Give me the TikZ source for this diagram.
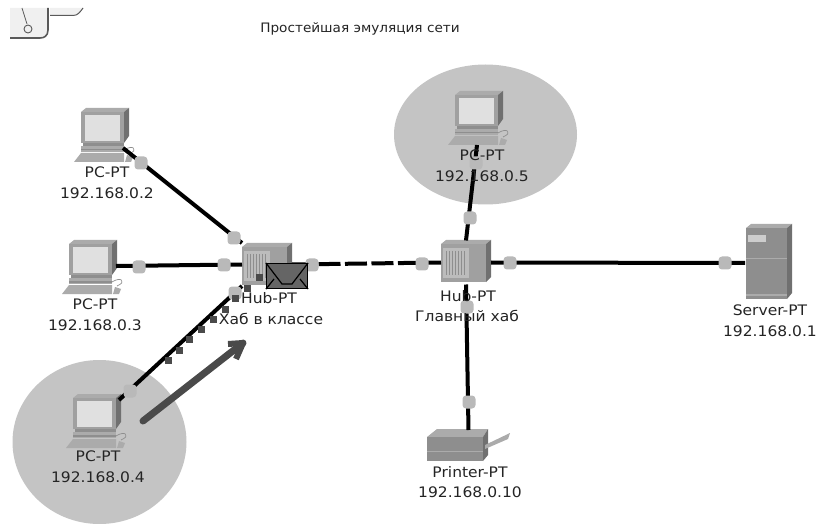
\documentclass[tikz,border=0pt]{standalone}
\usepackage{fontspec}
\setmainfont{DejaVu Sans}
\definecolor{halo}{HTML}{C4C4C4}
\definecolor{portc}{HTML}{B9B9B9}
\definecolor{ink}{HTML}{242424}
\definecolor{bodyc}{HTML}{8E8E8E}
\definecolor{framec}{HTML}{A0A0A0}
\definecolor{topc}{HTML}{ABABAB}
\definecolor{sidec}{HTML}{707070}
\definecolor{dotc}{HTML}{4A4A4A}
\definecolor{screenc}{HTML}{E0E0E0}
\tikzset{
  devbox/.style={inner sep=0pt,outer sep=0pt,draw=none,fill=none},
  link/.style={line width=4pt,black},
  port/.style={inner sep=0pt,minimum size=13pt,fill=portc,rounded corners=3.5pt,draw=none},
  lab/.style={font=\fontsize{14.5}{15}\selectfont,text=ink,inner sep=0pt,xscale=1.07},
  packet/.style={inner sep=0pt,minimum size=7pt,fill=dotc,draw=none},
}
\newcommand{\pcicon}[2]{\begin{scope}[shift={(#1,#2)}]
  \fill[topc] (0,4) -- (5,0) -- (48,0) -- (43,4) -- cycle;
  \fill[sidec] (43,4) -- (48,0) -- (48,28) -- (43,35) -- cycle;
  \fill[framec] (0,4) rectangle (43,35);
  \fill[screenc] (4,7) rectangle (39,33);
  \fill[bodyc] (2,35) rectangle (43,38);
  \fill[topc] (0,38) rectangle (43,44);
  \fill[bodyc] (0,41) rectangle (43,42.5);
  \fill[topc] (-7,54) -- (0,45) -- (43,45) -- (43,54) -- cycle;
  \fill[topc] (46,47) -- (52,49) -- (50,54) -- (44,54) -- cycle;
  \draw[bodyc,line width=.7pt] (43,42) .. controls (52,36) and (58,42) .. (48,46);
\end{scope}}
\newcommand{\hubicon}[2]{\begin{scope}[shift={(#1,#2)}]
  \fill[topc] (0,4) -- (5,0) -- (50,0) -- (45,4) -- cycle;
  \fill[sidec] (45,4) -- (50,0) -- (50,37) -- (45,42) -- cycle;
  \fill[framec] (0,4) rectangle (45,42);
  \fill[topc!80!white] (2,8) rectangle (28,38);
  \foreach \k in {5,8,...,23} {\draw[bodyc,line width=1pt] (\k,11) -- (\k,35);}
\end{scope}}
\begin{document}
\begin{tikzpicture}[x=1pt,y=-1pt]
\useasboundingbox (0,0) rectangle (823,524);
\fill[white] (0,0) rectangle (823,524);
% note icon
\fill[gray!12] (10,8) -- (47,8) -- (47,30) .. controls (47,35) and (44,37) .. (40,37) -- (10,37) -- cycle;
\draw[gray!70!black,line width=1.6pt] (48,8) -- (48,30) .. controls (48,36) and (44,38) .. (40,38) -- (10,38);
\fill[gray!12] (50,8) -- (83,8) .. controls (80,12) and (78,15) .. (72,15) -- (50,15) -- cycle;
\draw[gray!70!black,line width=1pt] (50,15.5) -- (73,15.5) .. controls (78,15.5) and (80,12) .. (83,8);
\draw[gray!70!black,line width=.8pt] (22,8) -- (27,24);
\draw[gray!70!black,line width=.9pt] (28,29) circle[radius=4];
% halos
\fill[halo] (99.5,442) ellipse[x radius=87,y radius=82];
\fill[halo] (485.5,134.5) ellipse[x radius=91.5,y radius=70];
% icons
\pcicon{81}{108}
\pcicon{69}{240}
\pcicon{73}{394}
\pcicon{455}{91}
\hubicon{242}{243}
\hubicon{441}{240}
% server
\fill[topc] (746,228) -- (751,224) -- (792,224) -- (787,228) -- cycle;
\fill[sidec] (787,228) -- (792,224) -- (792,293) -- (787,299) -- cycle;
\fill[bodyc] (746,228) rectangle (787,299);
\fill[topc!60!white] (748,235) rectangle (766,242);
\fill[topc] (746,258) rectangle (787,259.5);
\fill[topc] (746,294) rectangle (787,296);
% printer
\fill[topc] (427,437) -- (437,429) -- (488,429) -- (483,437) -- cycle;
\fill[sidec] (483,437) -- (488,429) -- (488,455) -- (483,461) -- cycle;
\fill[bodyc] (427,437) rectangle (483,461);
\fill[topc] (427,451) rectangle (483,452);
\fill[topc] (485,445) -- (510,433) -- (508,439) -- (485,449) -- cycle;
% device anchors
\node[devbox,minimum width=42pt,minimum height=40pt] (pc2) at (102,128) {};
\node[devbox,minimum width=47pt,minimum height=52pt] (pc3) at (92.5,266) {};
\node[devbox,minimum width=46pt,minimum height=54pt] (pc4) at (96,427) {};
\node[devbox,minimum width=40pt,minimum height=54pt] (pc5) at (477,118) {};
\node[devbox,minimum width=50pt,minimum height=43pt] (hubA) at (267,264.5) {};
\node[devbox,minimum width=50pt,minimum height=44pt] (hubB) at (466,262.5) {};
\node[devbox,minimum width=46pt,minimum height=76pt] (srv) at (768,263) {};
\node[devbox,minimum width=83pt,minimum height=32pt] (prn) at (468.5,446) {};
% connectors
\draw[link] (pc2.south east) -- (hubA.north west);
\draw[link] (pc3.east) -- (hubA.west);
\draw[link] (pc4.north east) -- (hubA.south west);
\draw[link,dash pattern=on 22pt off 4.5pt] (hubA.east) -- (hubB.west);
\draw[link] (hubB.east) -- (srv.west);
\draw[link] (hubB.north) -- (pc5.south);
\draw[link] (hubB.south) -- (prn.north);
% ports
\node[port] (q1) at (141,163) {};
\node[port] (q2) at (234,238) {};
\node[port] (q3) at (139,267) {};
\node[port] (q4) at (224,265) {};
\node[port] (q5) at (130,391) {};
\node[port] (q6) at (235,293) {};
\node[port] (q7) at (312,265) {};
\node[port] (q8) at (422,264) {};
\node[port] (q9) at (510,263) {};
\node[port] (q10) at (725,263) {};
\node[port] (q11) at (470,218) {};
\node[port] (q12) at (476,163) {};
\node[port] (q13) at (467,307) {};
\node[port] (q14) at (469,402) {};
% packet trail
\node[packet] (t1) at (168,360) {};
\node[packet] (t2) at (179,350) {};
\node[packet] (t3) at (189,339) {};
\node[packet] (t4) at (201,329) {};
\node[packet] (t5) at (213,319) {};
\node[packet] (t6) at (225,309) {};
\node[packet] (t7) at (235.5,298) {};
\node[packet] (t8) at (247,288) {};
\node[packet] (t9) at (259,278) {};
% direction arrow
\coordinate (mvA) at (143,421);
\coordinate (mvB) at (243,343);
\draw[dotc,line width=7pt,line cap=round] (mvA) -- (mvB);
\draw[dotc,line width=6pt,line join=round] (228,344) -- (mvB) -- (236,359);
% envelope
\node[inner sep=0pt,minimum width=41pt,minimum height=25pt,fill=dotc!85!white,draw=black,line width=1.2pt] (env) at (287,276) {};
\draw[black,line width=1.2pt] (env.north west) -- (282,284) -- (292,284) -- (env.north east);
\draw[black,line width=1.2pt] (env.south west) -- (274,279);
\draw[black,line width=1.2pt] (env.south east) -- (300,279);
% labels
\node[lab,xscale=.98,font=\fontsize{13}{13}\selectfont] (title) at (360,29) {Простейшая эмуляция сети};
\node[lab] (l2a) at (107,172) {PC-PT};
\node[lab] (l2b) at (107,193) {192.168.0.2};
\node[lab] (l3a) at (95,304) {PC-PT};
\node[lab] (l3b) at (95,325) {192.168.0.3};
\node[lab] (l4a) at (98,456) {PC-PT};
\node[lab] (l4b) at (98,477) {192.168.0.4};
\node[lab] (l5a) at (482,155) {PC-PT};
\node[lab] (l5b) at (482,176) {192.168.0.5};
\node[lab] (hAa) at (269,298) {Hub-PT};
\node[lab] (hAb) at (271,319) {Хаб в классе};
\node[lab] (hBa) at (468,296) {Hub-PT};
\node[lab] (hBb) at (467,316) {Главный хаб};
\node[lab] (sa) at (770,310) {Server-PT};
\node[lab] (sb) at (770,331) {192.168.0.1};
\node[lab] (pa) at (470,472) {Printer-PT};
\node[lab] (pb) at (470,492) {192.168.0.10};
\end{tikzpicture}
\end{document}
